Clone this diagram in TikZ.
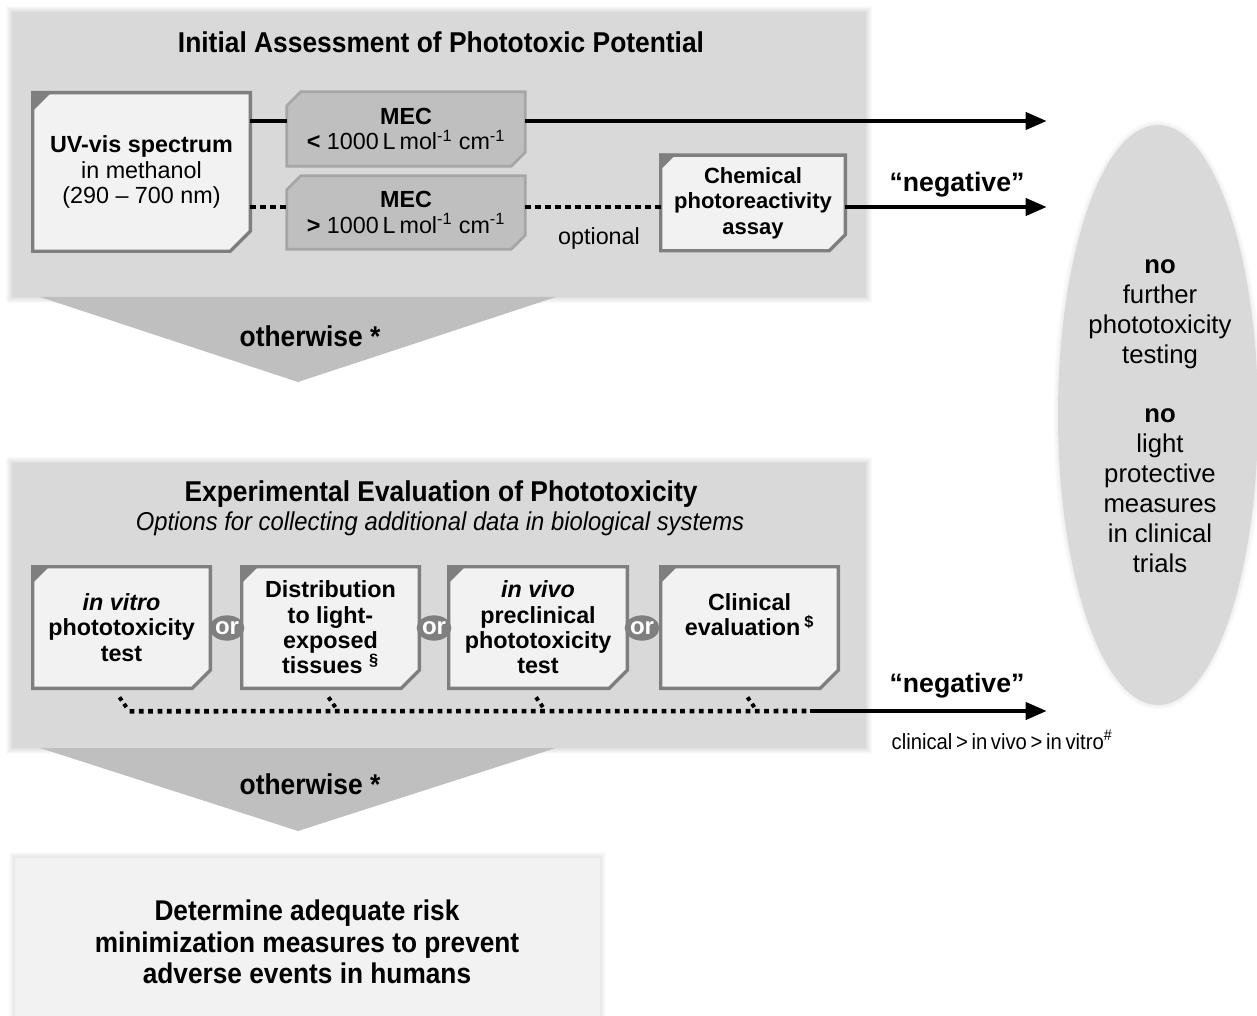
\documentclass[tikz,border=0pt]{standalone}
\usepackage{fontspec}
\setmainfont{Liberation Sans}
\newfontfamily\narrowfont[FakeStretch=0.92]{Liberation Sans}
\usetikzlibrary{arrows.meta,calc,shapes.geometric}
\definecolor{panel}{HTML}{D9D9D9}
\definecolor{chev}{HTML}{BFBFBF}
\definecolor{boxfill}{HTML}{F2F2F2}
\definecolor{boxedge}{HTML}{7F7F7F}
\definecolor{mecfill}{HTML}{BFBFBF}
\definecolor{mecedge}{HTML}{A6A6A6}
\pgfdeclarelayer{bg}\pgfdeclarelayer{mid}\pgfsetlayers{bg,mid,main}
\newcommand\fsz[2]{\fontsize{#1}{#2}\selectfont}
\newcommand\wbox[2]{% name, corner size
  \begin{pgfonlayer}{mid}
  \filldraw[fill=boxfill, draw=boxedge, line width=2.6pt, line join=miter]
    (#1.north west) -- (#1.north east) -- ($(#1.south east)+(0,-#2)$) -- ($(#1.south east)+(-#2,0)$) -- (#1.south west) -- cycle;
  \fill[boxedge] ($(#1.north west)+(-1.5,-1.5)$) -- ($(#1.north west)+(#2,-1.5)$) -- ($(#1.north west)+(-1.5,#2)$) -- cycle;
  \end{pgfonlayer}}
\newcommand\mecbox[1]{%
  \begin{pgfonlayer}{mid}
  \filldraw[fill=mecfill, draw=mecedge, line width=2pt, line join=miter]
    ($(#1.north west)+(14,0)$) -- (#1.north east) -- ($(#1.south east)+(0,-14)$) -- ($(#1.south east)+(-14,0)$) -- (#1.south west) -- ($(#1.north west)+(0,14)$) -- cycle;
  \end{pgfonlayer}}
\tikzset{
  tbox/.style={rectangle, inner sep=0pt, align=center, font=\fsz{17.5pt}{19pt}},
  wh/.style 2 args={minimum width=#1*0.75pt, minimum height=#2*0.75pt},
  thickline/.style={line width=3.6pt, black},
  dotline/.style={line width=3.6pt, black, dash pattern=on 4pt off 3.5pt},
  dotsmall/.style={line width=3.4pt, black, dash pattern=on 3.6pt off 3.4pt},
  arr/.style={-{Triangle[length=16pt,width=12.5pt]}},
  titlefont/.style={font=\narrowfont\bfseries\fsz{21.5pt}{24pt}},
  ornode/.style={ellipse, fill=boxedge, text=white, inner sep=0pt, minimum width=26pt, minimum height=19pt, font=\bfseries\fsz{18pt}{18pt}},
  negl/.style={font=\bfseries\fsz{20pt}{22pt}},
}
\begin{document}
\begin{tikzpicture}[x=0.75pt,y=-0.75pt]
\useasboundingbox (0,0) rectangle (1257,1016);
% ---------- backgrounds
\begin{pgfonlayer}{bg}
  \foreach \i in {1,...,6}{
    \fill[black, opacity=0.02] (12-\i,12-\i) rectangle (866+\i,297+\i);
    \fill[black, opacity=0.02] (12-\i,463-\i) rectangle (866+\i,748+\i);
    \fill[black, opacity=0.015] (15-\i,858-\i) rectangle (600+\i,1016+\i);
  }
  \fill[panel] (12,12) rectangle (866,297);
  \fill[panel] (12,463) rectangle (866,748);
  \fill[chev] (40,297) -- (556,297) -- (298,382) -- cycle;
  \fill[chev] (40,748) -- (556,748) -- (298,831) -- cycle;
  \fill[boxfill] (15,858) rectangle (600,1016);
  \foreach \i in {1,...,5}{
    \fill[black, opacity=0.012] (1158,415) ellipse ({100+\i} and {290+\i});
  }
  \fill[panel] (1158,415) ellipse (100 and 290);
\end{pgfonlayer}
% ---------- titles
\node[titlefont] (t1) at (441,42) {Initial Assessment of Phototoxic Potential};
\node[titlefont] (t2) at (441,494) {Experimental Evaluation of Phototoxicity};
\node[font=\narrowfont\itshape\fsz{19.4pt}{22pt}] (t2b) at (440,524) {Options for collecting additional data in biological systems};
\node[titlefont] (ow1) at (310,336) {otherwise *};
\node[titlefont] (ow2) at (310,784) {otherwise *};
% ---------- top row
\node[tbox, wh={217}{158}] (uv) at (141.5,172) {\textbf{UV-vis spectrum}\\in methanol\\(290 – 700 nm)};
\wbox{uv}{20}
\node[tbox, wh={238}{74}] (mec1) at (406,129) {\textbf{MEC}\\\textbf{<} 1000\,L\,mol\textsuperscript{-1} cm\textsuperscript{-1}};
\mecbox{mec1}
\node[tbox, wh={238}{73}] (mec2) at (406,212.5) {\textbf{MEC}\\\textbf{>} 1000\,L\,mol\textsuperscript{-1} cm\textsuperscript{-1}};
\mecbox{mec2}
\node[tbox, wh={184}{95}, font=\bfseries\fsz{16.5pt}{19pt}] (chem) at (753,203) {Chemical\\photoreactivity\\assay};
\wbox{chem}{16}
\node[font=\fsz{17.5pt}{19pt}] (opt) at (599,238) {optional};
\node[negl] (neg1) at (957,185) {“negative”};
\coordinate (r1) at (1047,121);
\coordinate (r2) at (1047,207);
\draw[thickline] (uv.east |- r1) -- (mec1.west |- r1);
\draw[thickline, arr] (mec1.east |- r1) -- (r1);
\draw[dotline] (uv.east |- r2) -- (mec2.west |- r2);
\draw[dotline] (mec2.east |- r2) -- (chem.west |- r2);
\draw[thickline, arr] (chem.east |- r2) -- (r2);
% ---------- ellipse
\node[ellipse, inner sep=0pt, minimum width=150pt, minimum height=435pt] (ell) at (1158,415) {};
\node[align=center, font=\fsz{19.3pt}{22.5pt}] (elltext) at (1160,416) {\textbf{no}\\further\\phototoxicity\\testing\\[22pt]\textbf{no}\\light\\protective\\measures\\in clinical\\trials};
% ---------- second row
\node[tbox, wh={177}{121}] (vitro) at (121.5,627.5) {\textbf{\textit{in vitro}}\\\textbf{phototoxicity}\\\textbf{test}};
\wbox{vitro}{18}
\node[tbox, wh={177}{121}, font=\bfseries\fsz{17.5pt}{19pt}] (dist) at (330.5,627.5) {Distribution\\to light-\\exposed\\tissues \textsuperscript{§}};
\wbox{dist}{18}
\node[tbox, wh={178}{121}, font=\bfseries\fsz{17.5pt}{19pt}] (vivo) at (538,627.5) {\textit{in vivo}\\preclinical\\phototoxicity\\test};
\wbox{vivo}{18}
\node[tbox, wh={177}{121}, font=\bfseries\fsz{17.5pt}{19pt}] (clin) at (749.5,627.5) {Clinical\\evaluation\,\textsuperscript{\$}\\\mbox{}};
\wbox{clin}{18}
\node[ornode] (or1) at (227,628) {or};
\node[ornode] (or2) at (434,628) {or};
\node[ornode] (or3) at (642,628) {or};
\coordinate (j) at (810,711);
\coordinate (r3) at (1047,711);
\foreach \b in {vitro,dist,vivo,clin}{
  \draw[line width=3pt, dash pattern=on 3pt off 3pt] ($(\b.south)+(-2,9)$) -- ($(\b.south)+(7,22)$);
}
\draw[dotsmall] ($(vitro.south)+(8,23)$) -- (j);
\draw[thickline, arr] (j) -- (r3);
\node[negl] (neg2) at (957,686) {“negative”};
\node[font=\narrowfont\fsz{16.5pt}{18pt}] (order) at (1002,740) {clinical\,>\,in\,vivo\,>\,in\,vitro\textsuperscript{\#}};
% ---------- final box
\node[rectangle, inner sep=0pt, wh={585}{158}] (final) at (307.5,937) {};
\node[align=center, font=\narrowfont\bfseries\fsz{21.4pt}{23.6pt}] (finaltext) at (307,942) {Determine adequate risk\\minimization measures to prevent\\adverse events in humans};
\end{tikzpicture}
\end{document}
